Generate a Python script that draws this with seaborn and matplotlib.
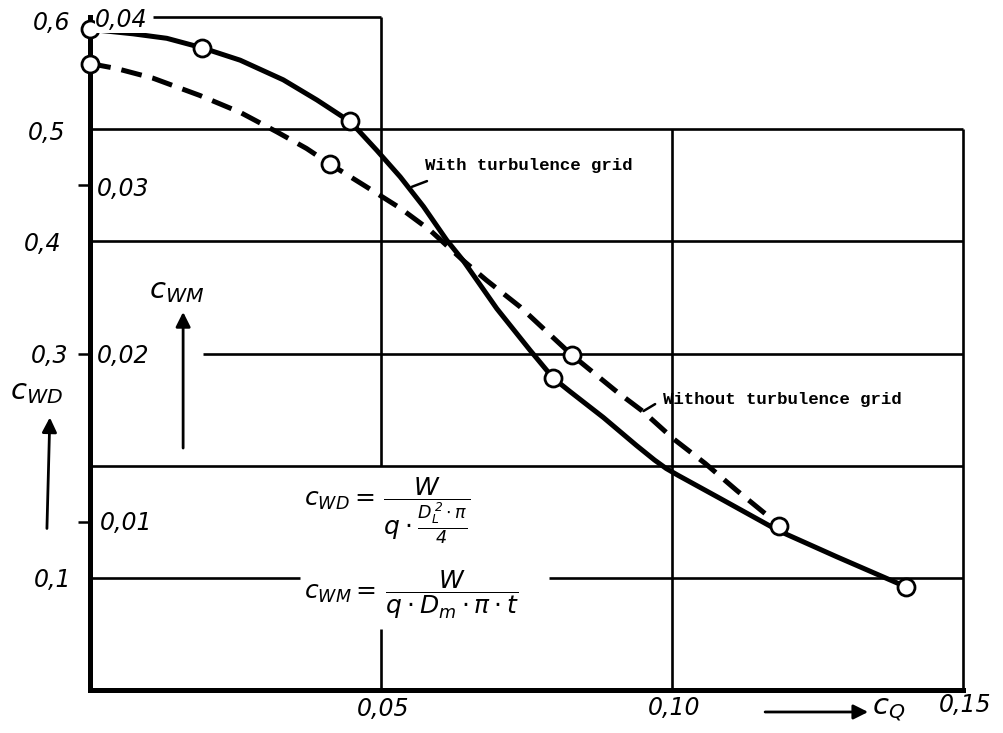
import matplotlib
matplotlib.use("Agg")
import matplotlib.pyplot as plt
import seaborn as sns
import pandas as pd

# ---- data ----
# curve "With turbulence grid" (solid)
with_x = [0.0, 0.0074, 0.0132, 0.0193, 0.0258, 0.0332, 0.0390, 0.0446, 0.0461, 0.0493,
          0.0533, 0.0573, 0.0613, 0.0641, 0.0699, 0.0756, 0.0796, 0.0825, 0.0882,
          0.0939, 0.0970, 0.0990, 0.1010, 0.1082, 0.1183, 0.1283, 0.1402]
with_y = [0.589, 0.585, 0.581, 0.5725, 0.5615, 0.544, 0.526, 0.507, 0.499, 0.481,
          0.4575, 0.431, 0.401, 0.383, 0.340, 0.303, 0.278, 0.266, 0.243,
          0.218, 0.205, 0.1975, 0.1915, 0.171, 0.142, 0.1188, 0.092]
# measured points (circles) on that curve
with_pts_x = [0.0, 0.0193, 0.0446, 0.0796, 0.1402]
with_pts_y = [0.589, 0.5725, 0.507, 0.278, 0.092]

# curve "Without turbulence grid" (dashed)
without_x = [0.0, 0.0046, 0.0108, 0.0189, 0.0258, 0.0321, 0.0372, 0.0412, 0.0475,
             0.0533, 0.0584, 0.0641, 0.0681, 0.0739, 0.0828, 0.0905, 0.0951,
             0.1002, 0.1057, 0.1111, 0.1163, 0.1183]
without_y = [0.5585, 0.554, 0.5455, 0.530, 0.515, 0.4976, 0.4828, 0.469, 0.4486,
             0.4296, 0.410, 0.383, 0.3654, 0.3416, 0.2986, 0.266, 0.248,
             0.2241, 0.202, 0.178, 0.156, 0.146]
without_pts_x = [0.0, 0.0412, 0.0828, 0.1183]
without_pts_y = [0.5585, 0.469, 0.2986, 0.146]

cwd_labels = ["0,6", "0,5", "0,4", "0,3", "0,1"]
cwd_values = [0.6, 0.5, 0.4, 0.3, 0.1]
cwm_labels = ["0,04", "0,03", "0,02", "0,01"]
cwm_values = [0.04, 0.03, 0.02, 0.01]
cq_labels = ["0,05", "0,10", "0,15"]
cq_values = [0.05, 0.10, 0.15]

# ---- style ----
sns.set_theme(style="white")
plt.rcParams["font.family"] = ["DejaVu Sans"]
plt.rcParams["text.color"] = "black"
plt.rcParams["mathtext.fontset"] = "custom"
plt.rcParams["mathtext.rm"] = "DejaVu Sans:italic"
plt.rcParams["mathtext.it"] = "DejaVu Sans:italic"
plt.rcParams["mathtext.bf"] = "DejaVu Sans:italic:bold"

fig = plt.figure(figsize=(10.04, 7.33), dpi=100)
fig.patch.set_facecolor("white")
ax = fig.add_axes([90 / 1004, 43 / 733, 873 / 1004, 673 / 733])
ax.set_xlim(0, 0.15)
ax.set_ylim(0, 0.6)

for s in ["top", "right"]:
    ax.spines[s].set_visible(False)
for s in ["left", "bottom"]:
    ax.spines[s].set_linewidth(3.6)
    ax.spines[s].set_color("black")
    ax.spines[s].set_zorder(5)

# ticks: only the small outward marks on the left
ax.set_xticks([])
ax.set_yticks([0.15, 0.3, 0.45])
ax.set_yticklabels([])
ax.tick_params(axis="y", direction="out", length=9, width=1.8, color="black", left=True)

# ---- grid (as drawn) ----
glw = 1.9
gk = dict(color="black", lw=glw, zorder=1, clip_on=False)
ax.hlines(0.5, 0, 0.15, **gk)
ax.hlines(0.4, 0, 0.15, **gk)
ax.hlines(0.3, 0.0194, 0.15, **gk)
ax.hlines(0.2, 0, 0.15, **gk)
ax.hlines(0.1, 0, 0.0361, **gk)
ax.hlines(0.1, 0.0789, 0.15, **gk)
ax.hlines(0.6, 0.0108, 0.05, **gk)
ax.vlines(0.05, 0.2, 0.6, **gk)
ax.vlines(0.05, 0, 0.0545, **gk)
ax.vlines(0.10, 0, 0.5, **gk)
ax.vlines(0.15, 0, 0.5, **gk)

# ---- curves ----
df_with = pd.DataFrame({"cQ": with_x, "cW": with_y})
df_without = pd.DataFrame({"cQ": without_x, "cW": without_y})
sns.lineplot(data=df_with, x="cQ", y="cW", sort=False, estimator=None, ax=ax,
             color="black", lw=3.6, zorder=3, solid_capstyle="round",
             solid_joinstyle="round")
sns.lineplot(data=df_without, x="cQ", y="cW", sort=False, estimator=None, ax=ax,
             color="black", lw=3.6, zorder=3, linestyle=(0, (4.2, 2.2)),
             dash_capstyle="butt")

pts = pd.DataFrame({"cQ": with_pts_x + without_pts_x,
                    "cW": with_pts_y + without_pts_y})
sns.scatterplot(data=pts, x="cQ", y="cW", ax=ax, marker="o", s=150,
                facecolor="white", edgecolor="black", linewidth=2.0,
                zorder=6, clip_on=False)
ax.set_xlabel("")
ax.set_ylabel("")

# ---- tick labels as drawn ----
lab = dict(fontsize=17, style="italic", color="black", va="center", clip_on=False)
cwd_pos_x = [-0.0066, -0.0074, -0.0081, -0.0069, -0.0064]
cwd_pos_y = [0.5945, 0.497, 0.3975, 0.2977, 0.098]
for t, x, y in zip(cwd_labels, cwd_pos_x, cwd_pos_y):
    ax.text(x, y, t, ha="center", zorder=7, **lab)
cwm_pos_x = [0.0009, 0.0012, 0.0012, 0.0017]
cwm_pos_y = [0.597, 0.4465, 0.2977, 0.1488]
for i, (t, x, y) in enumerate(zip(cwm_labels, cwm_pos_x, cwm_pos_y)):
    kw = dict(bbox=dict(facecolor="white", edgecolor="none", pad=0.5)) if i == 0 else {}
    ax.text(x, y, t, ha="left", zorder=7, **lab, **kw)
cq_pos_y = [-0.0169, -0.016, -0.0134]
for t, x, y in zip(cq_labels, cq_values, cq_pos_y):
    ax.text(x + 0.0004, y, t, ha="center", zorder=7, **lab)

# ---- axis titles with arrows ----
arr = dict(arrowstyle="-|>", lw=2.0, color="black", mutation_scale=22,
           shrinkA=0, shrinkB=0)
ax.annotate("", xy=(0.016, 0.337), xytext=(0.016, 0.2157), arrowprops=arr,
            annotation_clip=False)
ax.text(0.0102, 0.356, r"$c_{WM}$", fontsize=21, ha="left", va="center",
        color="black", clip_on=False)
ax.annotate("", xy=(-0.0069, 0.243), xytext=(-0.0074, 0.144), arrowprops=arr,
            annotation_clip=False)
ax.text(-0.0138, 0.266, r"$c_{WD}$", fontsize=21, ha="left", va="center",
        color="black", clip_on=False)
ax.annotate("", xy=(0.1337, -0.0196), xytext=(0.116, -0.0196), arrowprops=arr,
            annotation_clip=False)
ax.text(0.1343, -0.0175, r"$c_{Q}$", fontsize=21, ha="left", va="center",
        color="black", clip_on=False)

# ---- formulas ----
ax.text(0.0367, 0.160, r"$c_{WD}=\,\dfrac{W}{q\cdot\frac{D_L^{\,2}\cdot\pi}{4}}$",
        fontsize=18, ha="left", va="center", color="black", zorder=7)
ax.text(0.0367, 0.0847, r"$c_{WM}=\,\dfrac{W}{q\cdot D_m\cdot\pi\cdot t}$",
        fontsize=18, ha="left", va="center", color="black", zorder=7)

# ---- curve annotations ----
mono = dict(family=["Liberation Mono", "DejaVu Sans Mono"], fontweight="bold",
            fontsize=12.5, ha="left", va="center", color="black")
ax.text(0.0576, 0.468, "With turbulence grid", **mono)
ax.plot([0.0553, 0.0579], [0.4486, 0.4537], color="black", lw=1.8)
ax.text(0.0985, 0.2594, "Without turbulence grid", **mono)
ax.plot([0.0951, 0.0971], [0.2487, 0.2549], color="black", lw=1.8)

fig.savefig("out.png", dpi=100, facecolor="white")
